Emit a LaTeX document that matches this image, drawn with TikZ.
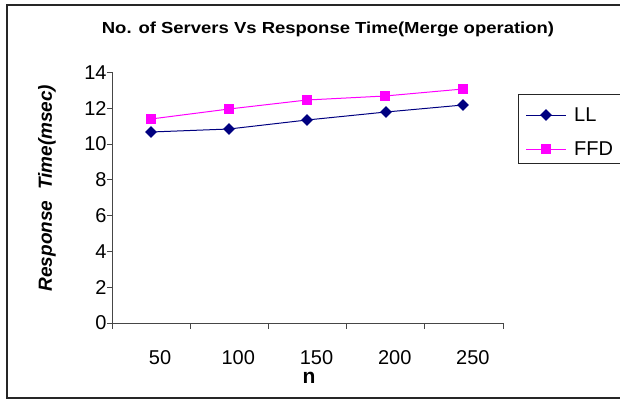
\documentclass[tikz,border=0pt]{standalone}
\usepackage{fontspec}
\setmainfont{Liberation Sans}
\usetikzlibrary{shapes.geometric}
\definecolor{llc}{RGB}{0,0,128}
\definecolor{ffdc}{RGB}{255,0,255}
\definecolor{axc}{RGB}{70,70,70}
\tikzset{
  frameline/.style={draw=black!85, line width=1.3pt},
  axisline/.style={draw=axc, line width=1pt},
  ticklabel/.style={font=\fontsize{20}{24}\selectfont, inner sep=0pt},
  llline/.style={draw=llc, line width=1pt},
  ffdline/.style={draw=ffdc, line width=1pt},
  llmark/.style={diamond, fill=llc, inner sep=0pt, minimum width=12pt, minimum height=12pt},
  ffdmark/.style={rectangle, fill=ffdc, inner sep=0pt, minimum size=10.5pt},
}
\begin{document}
\begin{tikzpicture}[x=1pt,y=-1pt]
\useasboundingbox (0,0) rectangle (620,399);
% outer frame
\draw[frameline] (621,5) -- (7,5) -- (7,398) -- (621,398);
% title
\node[font=\bfseries\fontsize{16}{18}\selectfont, xscale=1.155] (title) at (328,29) {No. of Servers Vs Response Time(Merge operation)};
% axes
\coordinate (o) at (112,323);
\coordinate (ytop) at (112,72);
\coordinate (xend) at (503,323);
\draw[axisline] (ytop) -- (o) -- (xend);
% y ticks
\foreach \v [count=\i from 0] in {0,2,...,14} {
  \coordinate (yt\i) at (112,{323-\i*35.8});
  \draw[axisline] (yt\i) -- ++(-5,0) node[ticklabel, anchor=east] (yl\i) {\v};
}
% x ticks
\foreach \i in {0,...,5} {
  \coordinate (xt\i) at ({112+\i*78.2},323);
  \draw[axisline] (xt\i) -- ++(0,6);
}
\foreach \lab [count=\i] in {50,100,150,200,250} {
  \node[ticklabel] (xl\i) at ({121+(\i-0.5)*78.2},358) {\lab};
}
\node[font=\bfseries\fontsize{21}{24}\selectfont, inner sep=0pt] (xlabel) at (309,378) {n};
\node[font=\bfseries\itshape\fontsize{19}{22}\selectfont, rotate=90, inner sep=0pt] (ylabel) at (47,188) {Response\ \ Time(msec)};
% data
\coordinate (f1) at (151,119);
\coordinate (f2) at (229,109);
\coordinate (f3) at (307,100);
\coordinate (f4) at (385,96);
\coordinate (f5) at (463,89);
\coordinate (l1) at (151,132);
\coordinate (l2) at (229,129);
\coordinate (l3) at (307,120);
\coordinate (l4) at (386,112);
\coordinate (l5) at (463,105);
\draw[ffdline] (f1) -- (f2) -- (f3) -- (f4) -- (f5);
\draw[llline] (l1) -- (l2) -- (l3) -- (l4) -- (l5);
\foreach \i in {1,...,5} {
  \node[ffdmark] (fm\i) at (f\i) {};
  \node[llmark] (lm\i) at (l\i) {};
}
% legend
\draw[frameline, line width=1pt] (621,94) -- (518,94) -- (518,163) -- (621,163);
\coordinate (lla) at (526,115);
\coordinate (llb) at (566,115);
\coordinate (ffa) at (526,149);
\coordinate (ffb) at (566,149);
\draw[llline] (lla) -- (llb);
\node[llmark] (leglm) at (546,115) {};
\node[ticklabel, anchor=west] (legll) at (574,115) {LL};
\draw[ffdline] (ffa) -- (ffb);
\node[ffdmark] (legfm) at (546,149) {};
\node[ticklabel, anchor=west] (legffd) at (574,149) {FFD};
\end{tikzpicture}
\end{document}
